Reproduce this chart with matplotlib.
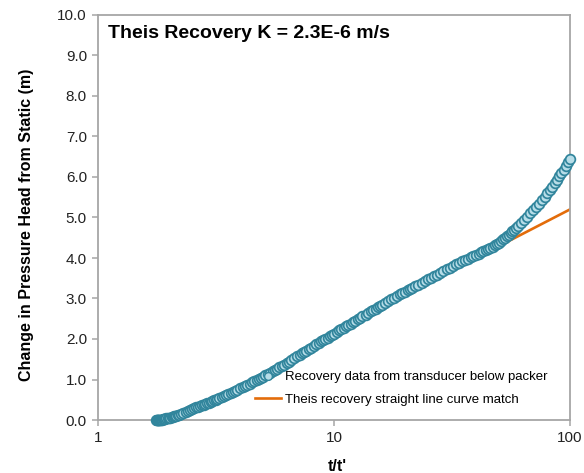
import matplotlib
matplotlib.use("Agg")
import matplotlib.pyplot as plt
from matplotlib.ticker import FixedLocator, FixedFormatter, NullLocator, FormatStrFormatter

plt.rcParams['font.family'] = ['Liberation Sans', 'DejaVu Sans']

# Recovery data (t/t' vs change in pressure head, m)
ratio = [1.76, 1.77, 1.78, 1.79, 1.80, 1.81, 1.82, 1.835, 1.85, 1.865, 1.88, 1.895,
         1.91, 1.93, 1.95, 1.975, 2.0, 2.025, 2.05, 2.075, 2.1, 2.125, 2.15, 2.175,
         2.2, 2.25, 2.3, 2.35, 2.4, 2.45, 2.5, 2.55, 2.6, 2.65, 2.7, 2.75, 2.8, 2.85,
         2.9, 2.95, 3.0, 3.05, 3.1, 3.15, 3.2, 3.27, 3.35, 3.42, 3.5, 3.57, 3.65,
         3.72, 3.8, 3.9, 4.0, 4.1, 4.2, 4.3, 4.4, 4.5, 4.6, 4.7, 4.8, 4.9, 5.0, 5.12,
         5.25, 5.37, 5.5, 5.62, 5.75, 5.87, 6.0, 6.15, 6.3, 6.45, 6.6, 6.8, 7.0, 7.15,
         7.3, 7.45, 7.6, 7.8, 8.0, 8.2, 8.4, 8.6, 8.8, 9.0, 9.2, 9.4, 9.6, 9.8, 10,
         10.25, 10.5, 10.75, 11, 11.25, 11.5, 11.75, 12, 12.3, 12.6, 12.9, 13.2, 13.6,
         14, 14.35, 14.7, 15.05, 15.4, 15.7, 16, 16.5, 17, 17.5, 18, 18.5, 19, 19.5,
         20, 20.5, 21, 21.5, 22, 22.7, 23.5, 24.2, 25, 25.7, 26.5, 27.2, 28, 29, 30,
         31, 32, 33, 34, 35, 36, 37, 38, 39, 40, 41, 42, 43, 44, 45, 46, 47, 48, 49,
         50, 51, 52, 53, 54, 55, 56, 57, 58, 59, 60, 62, 64, 66, 68, 70, 72, 74, 76,
         78, 80, 82, 84, 86, 88, 90, 92, 94, 96, 98, 100]
head = [0.00, 0.00, 0.00, 0.00, 0.00, 0.01, 0.01, 0.01, 0.01, 0.01, 0.02, 0.02,
        0.03, 0.03, 0.04, 0.04, 0.05, 0.06, 0.07, 0.08, 0.09, 0.10, 0.11, 0.12,
        0.13, 0.15, 0.18, 0.20, 0.22, 0.24, 0.27, 0.29, 0.31, 0.33, 0.35, 0.36, 0.38, 0.40,
        0.42, 0.43, 0.45, 0.47, 0.49, 0.50, 0.52, 0.55, 0.57, 0.59, 0.62, 0.64, 0.67,
        0.69, 0.72, 0.75, 0.78, 0.81, 0.84, 0.87, 0.90, 0.93, 0.96, 0.98, 1.01, 1.03, 1.06, 1.10,
        1.13, 1.16, 1.20, 1.23, 1.27, 1.30, 1.33, 1.37, 1.41, 1.44, 1.48, 1.53, 1.58, 1.61,
        1.65, 1.68, 1.71, 1.75, 1.79, 1.83, 1.87, 1.90, 1.94, 1.97, 2.00, 2.03, 2.07, 2.10, 2.13,
        2.17, 2.21, 2.24, 2.28, 2.31, 2.35, 2.38, 2.41, 2.45, 2.49, 2.52, 2.56, 2.60,
        2.65, 2.68, 2.72, 2.75, 2.79, 2.82, 2.85, 2.89, 2.94, 2.98, 3.02, 3.06, 3.10, 3.13,
        3.17, 3.20, 3.24, 3.27, 3.30, 3.34, 3.39, 3.43, 3.47, 3.51, 3.55, 3.59, 3.63, 3.67, 3.72,
        3.76, 3.80, 3.84, 3.88, 3.92, 3.95, 3.98, 4.02, 4.05, 4.08, 4.11, 4.14, 4.17, 4.19, 4.22, 4.25, 4.28, 4.31, 4.34,
        4.38, 4.42, 4.46, 4.50, 4.54, 4.58, 4.62, 4.66, 4.70, 4.74, 4.78, 4.86, 4.94, 5.02, 5.10, 5.18, 5.26, 5.34, 5.42,
        5.51, 5.60, 5.68, 5.76, 5.85, 5.93, 6.02, 6.10, 6.18, 6.27, 6.36, 6.45]

# Theis recovery straight-line match
line_ratio = [10.0, 100.0]
line_head = [2.19, 5.20]

x_ticks = [1, 10, 100]
x_tick_labels = ["1", "10", "100"]
y_ticks = [0, 1, 2, 3, 4, 5, 6, 7, 8, 9, 10]

W, H = 584, 473
fig = plt.figure(figsize=(W / 100, H / 100), dpi=100)
L, R, T, B = 98, 570, 15, 420
ax = fig.add_axes([L / W, 1 - B / H, (R - L) / W, (B - T) / H])

grey = '#a6a6a6'
teal = '#31859c'
light = '#b7dde8'
orange = '#e36c0a'

ax.plot(line_ratio, line_head, color=orange, lw=1.9, zorder=2,
        label='Theis recovery straight line curve match')
ax.plot(ratio, head, 'o', ms=7.0, mfc=light, mec=teal, mew=1.25, zorder=3,
        clip_on=False, label='Recovery data from transducer below packer')

ax.set_xscale('log')
ax.set_xlim(1, 100)
ax.set_ylim(0, 10)
ax.xaxis.set_major_locator(FixedLocator(x_ticks))
ax.xaxis.set_major_formatter(FixedFormatter(x_tick_labels))
ax.xaxis.set_minor_locator(NullLocator())
ax.yaxis.set_major_locator(FixedLocator(y_ticks))
ax.yaxis.set_major_formatter(FormatStrFormatter('%.1f'))

for s in ax.spines.values():
    s.set_color(grey)
    s.set_linewidth(1.3)
ax.tick_params(axis='both', which='major', direction='out', length=4.5, width=1.1,
               color=grey, labelsize=11, labelcolor='#222222', pad=3.5)

ax.text(10 / (R - L), (B - 38) / (B - T), 'Theis Recovery K = 2.3E-6 m/s',
        transform=ax.transAxes, fontsize=14, fontweight='bold', ha='left', va='baseline')

fig.text(27 / W, 1 - 224.5 / H, 'Change in Pressure Head from Static (m)',
         rotation=90, fontsize=11.5, fontweight='bold', ha='center', va='center')
fig.text(337 / W, 1 - 459 / H, "t/t'", fontsize=11.5, fontweight='bold',
         ha='center', va='top')

handles, labels = ax.get_legend_handles_labels()
leg = ax.legend([handles[1], handles[0]], [labels[1], labels[0]],
                loc='upper left', bbox_to_anchor=((255 - L) / (R - L), (B - 371) / (B - T)),
                frameon=False, fontsize=9.5, numpoints=1, handlelength=2.0,
                handletextpad=0.25, labelspacing=0.8, borderpad=0, borderaxespad=0)
leg.legend_handles[0].set_markersize(5.6)
leg.legend_handles[0].set_markeredgewidth(1.0)

fig.savefig('out.png', dpi=100)
